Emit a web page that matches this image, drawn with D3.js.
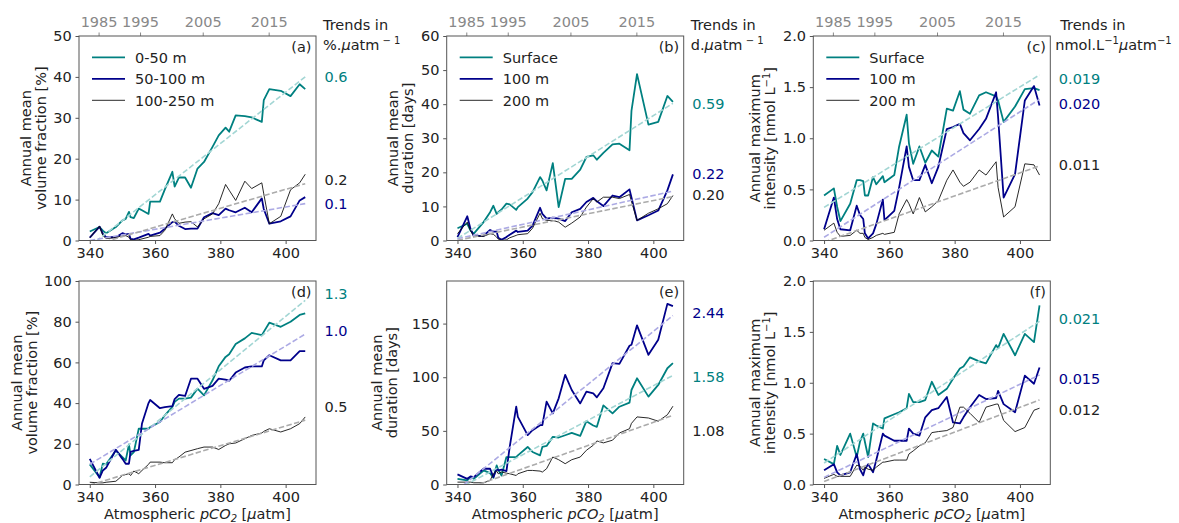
<!DOCTYPE html>
<html>
<head>
<meta charset="utf-8">
<script src="https://cdn.jsdelivr.net/npm/d3@7"></script>
<style>
body { margin: 0; background: #fff; }
svg { display: block; }
text { font-family: "DejaVu Sans", sans-serif; }
</style>
</head>
<body>
<svg width="1179" height="523"></svg>
<script>
var svg = d3.select("svg");

// atmospheric pCO2 of each annual value [uatm]
var pco2 = [340, 343, 344, 345, 348, 350, 351, 352, 352.5, 353.5, 355, 356, 358, 358.5, 361.5, 363,
  365.3, 366, 367.3, 369.2, 371, 373, 375, 377.6, 379.5, 381.6, 382.7, 384.7, 387.5, 389.6, 392.7,
  393.3, 395, 398.5, 401.5, 404.3, 406];

// years shown on the top axis and where they fall on the pCO2 axis
var yearTicks = [1985, 1995, 2005, 2015];
var yearTickPco2 = [342.7, 355.4, 374.6, 394.8];

// (a) annual mean volume fraction [%]
var fracA0_50 = [2.2, 3.3, 2.4, 1.8, 3.3, 4.9, 5.3, 7.0, 5.7, 5.5, 7.8, 7.4, 6.5, 9.5, 9.5, 12.5, 16.8, 13.2, 15.4, 15.4, 12.9, 17.6, 19.2, 22.9, 25.7, 27.6, 26.6, 30.6, 30.4, 30.1, 29.0, 34.3, 37.0, 36.6, 35.3, 38.2, 37.0];
var fracA50_100 = [0.7, 3.4, 1.6, 0.8, 0.8, 1.8, 1.5, 1.6, 0.4, 0.3, 0.7, 1.0, 1.6, 1.2, 1.9, 2.9, 4.5, 4.6, 3.6, 2.8, 2.9, 2.9, 5.7, 6.7, 6.2, 7.8, 7.4, 6.9, 8.0, 6.9, 10.3, 7.7, 4.1, 4.7, 5.9, 9.8, 10.6];
var fracA100_250 = [0.7, 3.5, 1.2, 0.5, 0.7, 1.2, 1.2, 0.8, 0.2, 0, 0.2, 0.4, 0.8, 1.0, 1.2, 2.5, 6.5, 5.3, 4.2, 4.5, 4.6, 3.3, 5.3, 6.5, 9.0, 13.7, 12.3, 9.8, 14.5, 12.7, 14.1, 11.4, 4.1, 5.9, 12.4, 14.1, 16.2];

// (b) annual mean duration [days]
var durB0 = [3.6, 4.9, 2.9, 2.0, 5.4, 8.3, 10.2, 7.8, 8.3, 9.1, 10.8, 10.6, 9.0, 9.8, 12.3, 14.2, 18.6, 17.6, 14.7, 22.7, 9.8, 18.1, 18.1, 20.8, 24.5, 25.0, 23.7, 25.7, 28.2, 28.4, 26.5, 38.0, 48.8, 34.0, 34.8, 42.4, 40.7];
var durB100 = [1.0, 7.1, 3.4, 1.3, 1.4, 3.1, 2.6, 2.6, 0.8, 0.2, 1.0, 1.7, 2.9, 2.5, 2.9, 4.4, 9.6, 7.8, 6.4, 6.7, 6.4, 5.7, 8.3, 9.3, 11.3, 12.5, 11.5, 10.1, 13.2, 12.7, 15.0, 12.6, 5.9, 7.4, 8.8, 14.7, 19.4];
var durB200 = [2.0, 5.4, 2.9, 1.3, 1.2, 2.0, 1.8, 1.0, 0.4, 0, 0.2, 0.8, 1.5, 1.7, 2.0, 3.6, 8.0, 6.4, 5.9, 5.9, 5.4, 3.9, 5.1, 6.9, 9.8, 12.3, 11.3, 12.7, 12.7, 12.3, 13.5, 11.5, 5.9, 8.0, 9.3, 10.8, 13.2];

// (c) annual maximum intensity [nmol L-1]
var intC0 = [0.44, 0.51, 0.33, 0.19, 0.36, 0.59, 0.59, 0.58, 0.44, 0.44, 0.62, 0.55, 0.63, 0.57, 0.64, 0.92, 1.23, 0.95, 0.75, 0.92, 0.76, 0.88, 0.82, 1.29, 1.27, 1.46, 1.28, 1.24, 1.42, 1.45, 1.41, 1.37, 1.16, 1.31, 1.48, 1.49, 1.47];
var intC100 = [0.11, 0.42, 0.21, 0.11, 0.10, 0.34, 0.25, 0.21, 0.07, 0.02, 0.07, 0.16, 0.40, 0.20, 0.29, 0.52, 0.92, 0.72, 0.59, 0.59, 0.74, 0.56, 0.72, 1.09, 1.11, 1.14, 1.05, 0.98, 1.09, 1.19, 1.45, 1.21, 0.42, 0.65, 1.37, 1.51, 1.32];
var intC200 = [0.10, 0.17, 0.08, 0.04, 0.05, 0.10, 0.07, 0.07, 0.03, 0.01, 0.03, 0.05, 0.07, 0.06, 0.08, 0.26, 0.40, 0.36, 0.26, 0.42, 0.28, 0.33, 0.39, 0.59, 0.69, 0.57, 0.53, 0.57, 0.69, 0.64, 0.77, 0.52, 0.23, 0.33, 0.75, 0.74, 0.64];

// (d) annual mean volume fraction [%], second scenario
var fracD0_50 = [9.9, 3.6, 10.2, 9.9, 16.7, 13.5, 11.8, 19.7, 14.3, 15.9, 27.4, 27.4, 27.4, 28.2, 30.7, 34, 38.1, 40.6, 42.2, 42.2, 42.7, 47.1, 43.8, 51.2, 58.1, 62.7, 64.0, 69.0, 71.8, 74.5, 73.4, 75.0, 79.5, 77.5, 80.0, 83.3, 84.1];
var fracD50_100 = [12.6, 3.3, 6.9, 8.2, 17.1, 12.6, 10.2, 10.2, 16, 16.5, 17, 30, 40, 41.5, 37.5, 38, 38.5, 42, 44, 43.5, 52, 52, 47, 48.5, 52, 51.5, 51, 55, 57.5, 58, 58, 61, 63.5, 61, 61, 65.5, 65.5];
var fracD100_250 = [1.1, 0.8, 0.8, 1.1, 1.6, 4.4, 4.9, 5.3, 4.4, 6.6, 5.3, 6.9, 9.9, 11, 11, 10.7, 10.7, 12.2, 13.5, 15.9, 16.7, 17.6, 18.4, 18.4, 17.2, 19.2, 20, 20.4, 22.5, 24.1, 25.3, 26.1, 27.4, 25.8, 27.4, 29.9, 33.2];

// (e) annual mean duration [days], second scenario
var durE0 = [5.3, 3.8, 6.9, 5.3, 13.1, 10.6, 6.3, 17.8, 13.8, 8.4, 25.6, 25.6, 25.6, 27.2, 35, 30.3, 27.2, 35, 35.9, 44.4, 43.8, 45.9, 48.1, 45.3, 59, 55, 53.8, 73.8, 66.3, 72.5, 76.3, 88.1, 99, 81.9, 92.8, 108.4, 113.1];
var durE100 = [9.4, 5.3, 7.5, 6.9, 14.7, 14.7, 6.9, 14.7, 13.1, 13.8, 12.5, 35, 72.5, 63, 46, 50.6, 55.3, 55.3, 77.2, 66.3, 80.3, 102.2, 88.1, 75.6, 86.6, 85, 81.3, 89.7, 113.1, 112.5, 129.4, 130.3, 148.4, 120.9, 135, 168.4, 166.3];
var durE200 = [2.2, 2.2, 2.2, 1.6, 1.6, 3.8, 10, 12.5, 10, 11.6, 10.6, 10, 8.4, 10, 13.1, 13.1, 12.5, 11.6, 14.7, 25.6, 23.1, 19.4, 23.1, 25.6, 31.9, 36.6, 40.6, 38.8, 41.3, 48, 52, 57, 63, 62, 59, 65, 73];

// (f) annual maximum intensity [nmol L-1], second scenario
var intF0 = [0.25, 0.20, 0.38, 0.29, 0.50, 0.27, 0.42, 0.50, 0.42, 0.27, 0.60, 0.58, 0.55, 0.65, 0.69, 0.71, 0.75, 0.89, 0.81, 0.81, 0.83, 1.01, 0.88, 0.94, 1.04, 1.14, 1.16, 1.25, 1.21, 1.19, 1.37, 1.34, 1.48, 1.27, 1.48, 1.40, 1.76];
var intF100 = [0.14, 0.20, 0.12, 0.09, 0.12, 0.30, 0.15, 0.09, 0.15, 0.20, 0.12, 0.24, 0.50, 0.48, 0.43, 0.43, 0.43, 0.55, 0.50, 0.48, 0.66, 0.73, 0.75, 0.86, 0.61, 0.60, 0.66, 0.76, 0.88, 0.84, 0.85, 0.92, 0.79, 0.71, 1.07, 0.99, 1.15];
var intF200 = [0.06, 0.10, 0.08, 0.08, 0.08, 0.19, 0.18, 0.14, 0.17, 0.15, 0.14, 0.17, 0.22, 0.22, 0.24, 0.24, 0.24, 0.30, 0.33, 0.38, 0.41, 0.51, 0.52, 0.53, 0.56, 0.76, 0.76, 0.70, 0.61, 0.76, 0.79, 0.79, 0.63, 0.52, 0.56, 0.73, 0.75];

// legend names
var namesVolume = ["0-50 m", "50-100 m", "100-250 m"];
var namesDepth = ["Surface", "100 m", "200 m"];

// trend texts (per uatm) in series order, and the value they sit at
var trendsA = ["0.6", "0.1", "0.2"],       trendsAtA = [40.0, 9.1, 14.8];
var trendsB = ["0.59", "0.22", "0.20"],    trendsAtB = [40.0, 19.7, 13.4];
var trendsC = ["0.019", "0.020", "0.011"], trendsAtC = [1.586, 1.335, 0.739];
var trendsD = ["1.3", "1.0", "0.5"],       trendsAtD = [93.5, 75.4, 38.2];
var trendsE = ["1.58", "2.44", "1.08"],    trendsAtE = [100.5, 160.5, 50];
var trendsF = ["0.021", "0.015", "0.012"], trendsAtF = [1.633, 1.036, 0.732];

// styles
var lineColors = ["#008080", "#00008b", "#111"];
var lineWidths = [1.8, 1.8, 0.9];
var trendColors = ["#a3d6d4", "#acaae4", "#ababab"];
var spineColor = "#555";
var textColor = "#222";
var fs = 14.5;

var colLeft = [79, 446.7, 813.3];
var rowTop = [36, 281];
var pw = 237, ph = [204.5, 203.5];

var panels = [
  {tag: "(a)", col: 0, row: 0, yMax: 50, ticks: [0, 10, 20, 30, 40, 50], fmt: d3.format("d"),
    ylab: ["Annual mean", "volume fraction [%]"], series: [fracA0_50, fracA50_100, fracA100_250],
    names: namesVolume, trends: trendsA, trendsAt: trendsAtA, unit: "pct"},
  {tag: "(b)", col: 1, row: 0, yMax: 60, ticks: [0, 10, 20, 30, 40, 50, 60], fmt: d3.format("d"),
    ylab: ["Annual mean", "duration [days]"], series: [durB0, durB100, durB200],
    names: namesDepth, trends: trendsB, trendsAt: trendsAtB, unit: "d"},
  {tag: "(c)", col: 2, row: 0, yMax: 2, ticks: [0, 0.5, 1, 1.5, 2], fmt: d3.format(".1f"),
    ylab: ["Annual maximum", "intensity [nmol L", "\u22121", "]"], series: [intC0, intC100, intC200],
    names: namesDepth, trends: trendsC, trendsAt: trendsAtC, unit: "nmol"},
  {tag: "(d)", col: 0, row: 1, yMax: 100, ticks: [0, 20, 40, 60, 80, 100], fmt: d3.format("d"),
    ylab: ["Annual mean", "volume fraction [%]"], series: [fracD0_50, fracD50_100, fracD100_250],
    trends: trendsD, trendsAt: trendsAtD},
  {tag: "(e)", col: 1, row: 1, yMax: 189.7, ticks: [0, 50, 100, 150], fmt: d3.format("d"),
    ylab: ["Annual mean", "duration [days]"], series: [durE0, durE100, durE200],
    trends: trendsE, trendsAt: trendsAtE, labShift: -7},
  {tag: "(f)", col: 2, row: 1, yMax: 2, ticks: [0, 0.5, 1, 1.5, 2], fmt: d3.format(".1f"),
    ylab: ["Annual maximum", "intensity [nmol L", "\u22121", "]"], series: [intF0, intF100, intF200],
    trends: trendsF, trendsAt: trendsAtF}
];

// least squares fit
function fit(xs, ys) {
  var mx = d3.mean(xs), my = d3.mean(ys);
  var sxy = d3.sum(xs, function(v, i) { return (v - mx) * (ys[i] - my); });
  var sxx = d3.sum(xs, function(v) { return (v - mx) * (v - mx); });
  var b = sxy / sxx;
  return function(v) { return my + b * (v - mx); };
}

panels.forEach(function(p, pi) {
  var x0 = colLeft[p.col], y0 = rowTop[p.row], h = ph[p.row];
  var x = d3.scaleLinear().domain([336.7, 409.3]).range([x0, x0 + pw]);
  var y = d3.scaleLinear().domain([0, p.yMax]).range([y0 + h, y0]);
  var g = svg.append("g");

  svg.append("clipPath").attr("id", "clip" + pi)
    .append("rect").attr("x", x0).attr("y", y0).attr("width", pw).attr("height", h);

  // axes
  var ax = g.append("g").attr("transform", "translate(0," + (y0 + h) + ")")
    .call(d3.axisBottom(x).tickValues([340, 360, 380, 400]).tickSize(3.5).tickSizeOuter(0).tickPadding(3.5));
  var ay = g.append("g").attr("transform", "translate(" + x0 + ",0)")
    .call(d3.axisLeft(y).tickValues(p.ticks).tickFormat(p.fmt).tickSize(3.5).tickSizeOuter(0).tickPadding(3.8));
  [ax, ay].forEach(function(a) {
    a.select(".domain").remove();
    a.selectAll("line").attr("stroke", spineColor);
    a.selectAll("text").attr("fill", textColor).style("font-size", fs + "px").attr("font-family", null);
  });

  if (p.row === 0) {
    var at = g.append("g").attr("transform", "translate(0," + y0 + ")")
      .call(d3.axisTop(x).tickValues(yearTickPco2)
        .tickFormat(function(d, i) { return yearTicks[i]; })
        .tickSize(3.5).tickSizeOuter(0).tickPadding(5.8));
    at.select(".domain").remove();
    at.selectAll("line").attr("stroke", "#888");
    at.selectAll("text").attr("fill", "#888").style("font-size", fs + "px").attr("font-family", null);
  }

  // data lines
  var line = d3.line()
    .x(function(d) { return x(d[0]); })
    .y(function(d) { return y(d[1]); });
  var plot = g.append("g").attr("clip-path", "url(#clip" + pi + ")");
  p.series.forEach(function(s, k) {
    plot.append("path")
      .datum(d3.zip(pco2, s))
      .attr("d", line)
      .attr("fill", "none")
      .attr("stroke", lineColors[k])
      .attr("stroke-width", lineWidths[k])
      .attr("stroke-linejoin", "round");
  });
  // linear trends
  p.series.forEach(function(s, k) {
    var f = fit(pco2, s);
    var ends = [pco2[0], pco2[pco2.length - 1]];
    plot.append("path")
      .datum(ends.map(function(v) { return [v, f(v)]; }))
      .attr("d", line)
      .attr("fill", "none")
      .attr("stroke", trendColors[k])
      .attr("stroke-width", 1.6)
      .attr("stroke-dasharray", "5.5,2.4");
  });

  // frame
  g.append("rect").attr("x", x0).attr("y", y0).attr("width", pw).attr("height", h)
    .attr("fill", "none").attr("stroke", spineColor).attr("stroke-width", 1);

  // panel tag
  g.append("text").attr("x", x0 + pw - 4.5).attr("y", y0 + 16)
    .attr("text-anchor", "end").attr("fill", textColor).style("font-size", fs + "px").text(p.tag);

  // y label, two lines, placed left of the tick labels
  var tw = d3.max(ay.selectAll("text").nodes(), function(n) { return n.getComputedTextLength(); });
  var base2 = x0 - 7.3 - tw - 7.5 + (p.labShift || 0);
  var yl = g.append("text")
    .attr("transform", "translate(" + (base2 - 15) + "," + (y0 + h / 2) + ") rotate(-90)")
    .attr("text-anchor", "middle").attr("fill", textColor).style("font-size", fs + "px");
  yl.append("tspan").attr("x", 0).attr("y", 0).text(p.ylab[0]);
  yl.append("tspan").attr("x", 0).attr("y", 15).text(p.ylab[1]);
  if (p.ylab.length > 2) {
    yl.append("tspan").attr("dy", -5.5).style("font-size", "10px").text(p.ylab[2]);
    yl.append("tspan").attr("dy", 5.5).text(p.ylab[3]);
  }

  // trend values on the right
  p.trends.forEach(function(t, k) {
    g.append("text").attr("x", x0 + pw + 8.5).attr("y", y(p.trendsAt[k])).attr("dy", "0.36em")
      .attr("fill", k === 2 ? textColor : lineColors[k]).style("font-size", fs + "px").text(t);
  });

  // legend
  if (p.names) {
    p.names.forEach(function(n, k) {
      var ly = y0 + 21.3 + k * 21.5;
      g.append("line").attr("x1", x0 + 13).attr("x2", x0 + 46).attr("y1", ly).attr("y2", ly)
        .attr("stroke", lineColors[k]).attr("stroke-width", lineWidths[k]);
      g.append("text").attr("x", x0 + 56).attr("y", ly).attr("dy", "0.36em")
        .attr("fill", textColor).style("font-size", fs + "px").text(n);
    });
  }

  // header above the trend values
  if (p.unit) {
    var hx = x0 + pw + (p.unit === "nmol" ? 10 : 7);
    g.append("text").attr("x", hx).attr("y", 30).attr("fill", textColor)
      .style("font-size", fs + "px").text("Trends in");
    var u = g.append("text").attr("x", x0 + pw + (p.unit === "nmol" ? 5 : 7)).attr("y", 49.5)
      .attr("fill", textColor).style("font-size", fs + "px");
    if (p.unit === "nmol") {
      u.append("tspan").text("nmol.L");
      u.append("tspan").attr("dy", -6).style("font-size", "10px").text("\u22121");
      u.append("tspan").attr("dy", 6).style("font-style", "italic").text("\u03bc");
      u.append("tspan").text("atm");
      u.append("tspan").attr("dy", -6).style("font-size", "10px").text("\u22121");
    } else {
      u.append("tspan").text(p.unit === "pct" ? "%." : "d.");
      u.append("tspan").style("font-style", "italic").text("\u03bc");
      u.append("tspan").text("atm");
      u.append("tspan").attr("dy", -6).style("font-size", "10px").text(" \u2212 1");
    }
  }

  // x label on the bottom row
  if (p.row === 1) {
    var xl = g.append("text").attr("x", x0 + pw / 2).attr("y", 519)
      .attr("text-anchor", "middle").attr("fill", textColor).style("font-size", fs + "px");
    xl.append("tspan").text("Atmospheric ");
    xl.append("tspan").style("font-style", "italic").text("pCO");
    xl.append("tspan").attr("dy", 3).style("font-style", "italic").style("font-size", "10px").text("2");
    xl.append("tspan").attr("dy", -3).text(" [");
    xl.append("tspan").style("font-style", "italic").text("\u03bc");
    xl.append("tspan").text("atm]");
  }
});
</script>
</body>
</html>
